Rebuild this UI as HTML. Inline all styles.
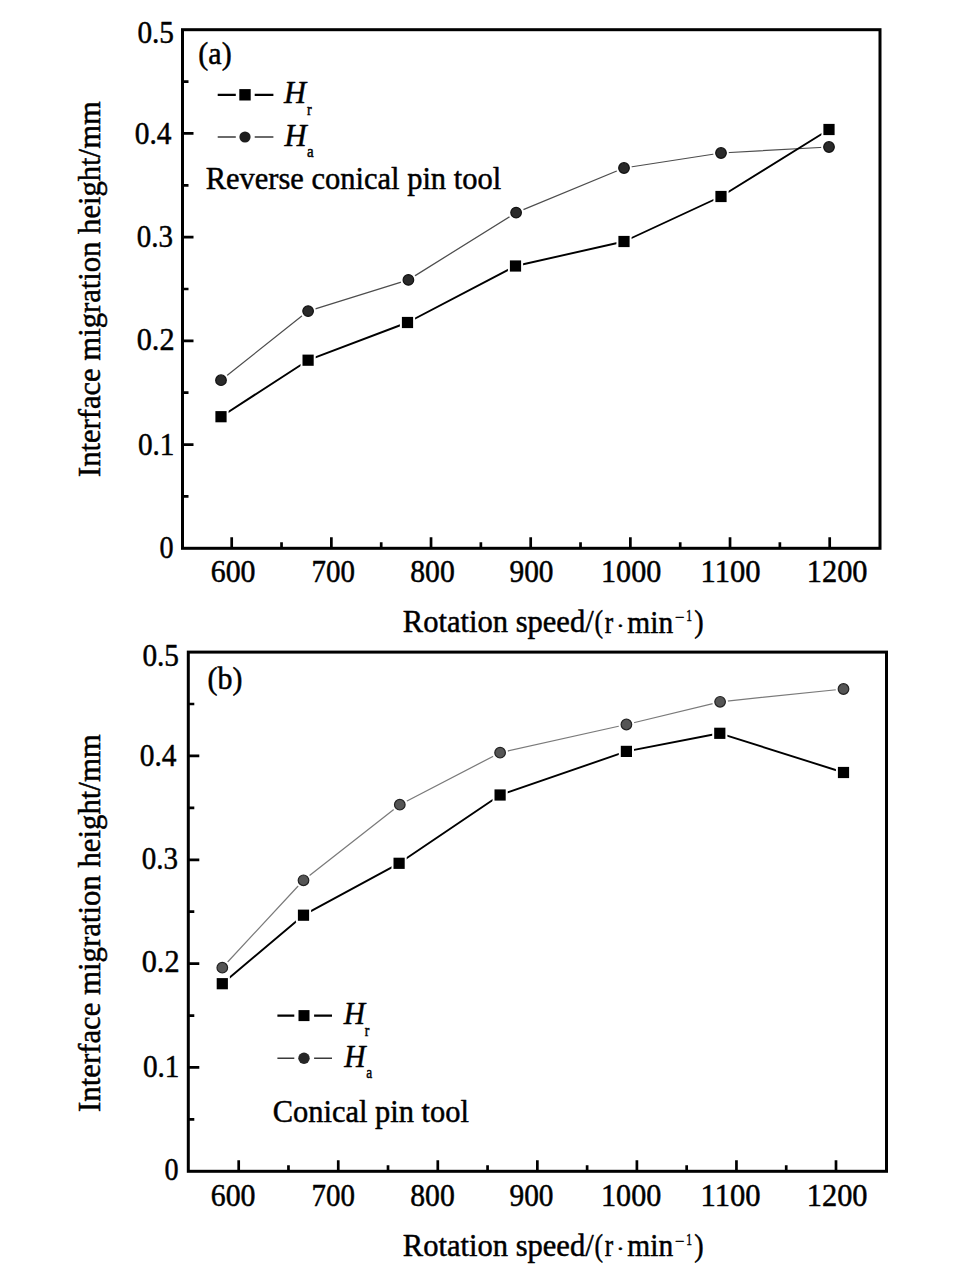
<!DOCTYPE html>
<html><head><meta charset="utf-8"><title>Interface migration height vs rotation speed</title>
<style>html,body{margin:0;padding:0;background:#ffffff;overflow:hidden;}svg{display:block;}</style></head>
<body>
<svg width="972" height="1288" viewBox="0 0 972 1288" font-family="'Liberation Serif', 'Times New Roman', serif" fill="#000">
<rect width="972" height="1288" fill="#ffffff"/>
<rect x="182.5" y="29.7" width="697.5" height="518.6" fill="#fff" stroke="#000" stroke-width="3.0"/>
<path d="M231.7 548.3V537.3M331.37 548.3V537.3M431.03 548.3V537.3M530.7 548.3V537.3M630.37 548.3V537.3M730.03 548.3V537.3M829.7 548.3V537.3M281.53 548.3V542.3M381.2 548.3V542.3M480.87 548.3V542.3M580.53 548.3V542.3M680.2 548.3V542.3M779.87 548.3V542.3M182.5 444.58H193.5M182.5 340.86H193.5M182.5 237.14H193.5M182.5 133.42H193.5M182.5 496.44H188.5M182.5 392.72H188.5M182.5 289H188.5M182.5 185.28H188.5M182.5 81.56H188.5" stroke="#000" stroke-width="2.7" fill="none"/>
<polyline points="221,380.2 308.1,311.1 408.4,279.9 516.1,212.6 624,168 721,153 829,147" fill="none" stroke="#4d4d4d" stroke-width="1.25" stroke-linejoin="round"/>
<polyline points="221,416.7 308.1,360.2 407.5,322.5 515.5,266 624,241.5 721,196.5 829,129.5" fill="none" stroke="#000" stroke-width="1.9" stroke-linejoin="round"/>
<circle cx="221" cy="380.2" r="7.9" fill="#fff"/>
<circle cx="221" cy="380.2" r="5.3" fill="#2a2a2a" stroke="#111" stroke-width="1.2"/>
<circle cx="308.1" cy="311.1" r="7.9" fill="#fff"/>
<circle cx="308.1" cy="311.1" r="5.3" fill="#2a2a2a" stroke="#111" stroke-width="1.2"/>
<circle cx="408.4" cy="279.9" r="7.9" fill="#fff"/>
<circle cx="408.4" cy="279.9" r="5.3" fill="#2a2a2a" stroke="#111" stroke-width="1.2"/>
<circle cx="516.1" cy="212.6" r="7.9" fill="#fff"/>
<circle cx="516.1" cy="212.6" r="5.3" fill="#2a2a2a" stroke="#111" stroke-width="1.2"/>
<circle cx="624" cy="168" r="7.9" fill="#fff"/>
<circle cx="624" cy="168" r="5.3" fill="#2a2a2a" stroke="#111" stroke-width="1.2"/>
<circle cx="721" cy="153" r="7.9" fill="#fff"/>
<circle cx="721" cy="153" r="5.3" fill="#2a2a2a" stroke="#111" stroke-width="1.2"/>
<circle cx="829" cy="147" r="7.9" fill="#fff"/>
<circle cx="829" cy="147" r="5.3" fill="#2a2a2a" stroke="#111" stroke-width="1.2"/>
<rect x="215.4" y="411.1" width="11.2" height="11.2" fill="#000" stroke="#fff" stroke-width="4.0" paint-order="stroke"/>
<rect x="302.5" y="354.6" width="11.2" height="11.2" fill="#000" stroke="#fff" stroke-width="4.0" paint-order="stroke"/>
<rect x="401.9" y="316.9" width="11.2" height="11.2" fill="#000" stroke="#fff" stroke-width="4.0" paint-order="stroke"/>
<rect x="509.9" y="260.4" width="11.2" height="11.2" fill="#000" stroke="#fff" stroke-width="4.0" paint-order="stroke"/>
<rect x="618.4" y="235.9" width="11.2" height="11.2" fill="#000" stroke="#fff" stroke-width="4.0" paint-order="stroke"/>
<rect x="715.4" y="190.9" width="11.2" height="11.2" fill="#000" stroke="#fff" stroke-width="4.0" paint-order="stroke"/>
<rect x="823.4" y="123.9" width="11.2" height="11.2" fill="#000" stroke="#fff" stroke-width="4.0" paint-order="stroke"/>
<path d="M217.7 94.8H235.8M254.7 94.8H273.4" stroke="#000" stroke-width="2.2" fill="none"/>
<rect x="239.3" y="89.1" width="11.4" height="11.4" fill="#000"/>
<path d="M217.7 137H235.8M254.7 137H273.4" stroke="#3a3a3a" stroke-width="1.4" fill="none"/>
<circle cx="245" cy="137" r="5.6" fill="#1c1c1c"/>
<rect x="188.3" y="652.1" width="698.2" height="519.2" fill="#fff" stroke="#000" stroke-width="3.0"/>
<path d="M238.7 1171.3V1160.3M338.25 1171.3V1160.3M437.8 1171.3V1160.3M537.35 1171.3V1160.3M636.9 1171.3V1160.3M736.45 1171.3V1160.3M836 1171.3V1160.3M288.47 1171.3V1165.3M388.02 1171.3V1165.3M487.57 1171.3V1165.3M587.12 1171.3V1165.3M686.67 1171.3V1165.3M786.22 1171.3V1165.3M188.3 1067.46H199.3M188.3 963.62H199.3M188.3 859.78H199.3M188.3 755.94H199.3M188.3 1119.38H194.3M188.3 1015.54H194.3M188.3 911.7H194.3M188.3 807.86H194.3M188.3 704.02H194.3" stroke="#000" stroke-width="2.7" fill="none"/>
<polyline points="222.3,967.7 303.5,880.3 399.8,804.7 500.1,752.7 626.4,724.5 720.1,701.8 843.5,689" fill="none" stroke="#7a7a7a" stroke-width="1.25" stroke-linejoin="round"/>
<polyline points="222.3,983.7 303.5,915.2 399.1,863.3 500.1,795 626.4,751.4 719.8,733.3 843.5,772.5" fill="none" stroke="#000" stroke-width="1.9" stroke-linejoin="round"/>
<circle cx="222.3" cy="967.7" r="7.9" fill="#fff"/>
<circle cx="222.3" cy="967.7" r="5.3" fill="#555" stroke="#222" stroke-width="1.2"/>
<circle cx="303.5" cy="880.3" r="7.9" fill="#fff"/>
<circle cx="303.5" cy="880.3" r="5.3" fill="#555" stroke="#222" stroke-width="1.2"/>
<circle cx="399.8" cy="804.7" r="7.9" fill="#fff"/>
<circle cx="399.8" cy="804.7" r="5.3" fill="#555" stroke="#222" stroke-width="1.2"/>
<circle cx="500.1" cy="752.7" r="7.9" fill="#fff"/>
<circle cx="500.1" cy="752.7" r="5.3" fill="#555" stroke="#222" stroke-width="1.2"/>
<circle cx="626.4" cy="724.5" r="7.9" fill="#fff"/>
<circle cx="626.4" cy="724.5" r="5.3" fill="#555" stroke="#222" stroke-width="1.2"/>
<circle cx="720.1" cy="701.8" r="7.9" fill="#fff"/>
<circle cx="720.1" cy="701.8" r="5.3" fill="#555" stroke="#222" stroke-width="1.2"/>
<circle cx="843.5" cy="689" r="7.9" fill="#fff"/>
<circle cx="843.5" cy="689" r="5.3" fill="#555" stroke="#222" stroke-width="1.2"/>
<rect x="216.7" y="978.1" width="11.2" height="11.2" fill="#000" stroke="#fff" stroke-width="4.0" paint-order="stroke"/>
<rect x="297.9" y="909.6" width="11.2" height="11.2" fill="#000" stroke="#fff" stroke-width="4.0" paint-order="stroke"/>
<rect x="393.5" y="857.7" width="11.2" height="11.2" fill="#000" stroke="#fff" stroke-width="4.0" paint-order="stroke"/>
<rect x="494.5" y="789.4" width="11.2" height="11.2" fill="#000" stroke="#fff" stroke-width="4.0" paint-order="stroke"/>
<rect x="620.8" y="745.8" width="11.2" height="11.2" fill="#000" stroke="#fff" stroke-width="4.0" paint-order="stroke"/>
<rect x="714.2" y="727.7" width="11.2" height="11.2" fill="#000" stroke="#fff" stroke-width="4.0" paint-order="stroke"/>
<rect x="837.9" y="766.9" width="11.2" height="11.2" fill="#000" stroke="#fff" stroke-width="4.0" paint-order="stroke"/>
<path d="M277.4 1015.6H294.3M314.1 1015.6H332" stroke="#000" stroke-width="2.2" fill="none"/>
<rect x="298.5" y="1010.1" width="11" height="11" fill="#000"/>
<path d="M277.4 1058.3H294.3M314.1 1058.3H332" stroke="#3a3a3a" stroke-width="1.4" fill="none"/>
<circle cx="304" cy="1058.3" r="5.7" fill="#262626"/>
<g stroke="#000" stroke-width="0.5" stroke-linejoin="round">
<text x="137.38" y="43.49" font-size="32.5" textLength="36.63" lengthAdjust="spacingAndGlyphs">0.5</text>
<text x="142.38" y="665.59" font-size="32.5" textLength="36.63" lengthAdjust="spacingAndGlyphs">0.5</text>
<text x="134.68" y="143.59" font-size="32.5" textLength="36.78" lengthAdjust="spacingAndGlyphs">0.4</text>
<text x="139.68" y="765.69" font-size="32.5" textLength="36.78" lengthAdjust="spacingAndGlyphs">0.4</text>
<text x="136.79" y="247.39" font-size="32.5" textLength="36.21" lengthAdjust="spacingAndGlyphs">0.3</text>
<text x="141.79" y="869.49" font-size="32.5" textLength="36.21" lengthAdjust="spacingAndGlyphs">0.3</text>
<text x="136.76" y="350.09" font-size="32.5" textLength="37.76" lengthAdjust="spacingAndGlyphs">0.2</text>
<text x="141.76" y="972.19" font-size="32.5" textLength="37.76" lengthAdjust="spacingAndGlyphs">0.2</text>
<text x="137.89" y="454.99" font-size="32.5" textLength="36.59" lengthAdjust="spacingAndGlyphs">0.1</text>
<text x="142.89" y="1077.09" font-size="32.5" textLength="36.59" lengthAdjust="spacingAndGlyphs">0.1</text>
<text x="159.42" y="558.29" font-size="32.5" textLength="14.06" lengthAdjust="spacingAndGlyphs">0</text>
<text x="164.42" y="1180.39" font-size="32.5" textLength="14.06" lengthAdjust="spacingAndGlyphs">0</text>
<text x="210.72" y="582.09" font-size="32.5" textLength="44.82" lengthAdjust="spacingAndGlyphs">600</text>
<text x="210.72" y="1205.84" font-size="32.5" textLength="44.82" lengthAdjust="spacingAndGlyphs">600</text>
<text x="311.59" y="582.09" font-size="32.5" textLength="43.41" lengthAdjust="spacingAndGlyphs">700</text>
<text x="311.59" y="1205.84" font-size="32.5" textLength="43.41" lengthAdjust="spacingAndGlyphs">700</text>
<text x="410.22" y="582.09" font-size="32.5" textLength="44.56" lengthAdjust="spacingAndGlyphs">800</text>
<text x="410.22" y="1205.84" font-size="32.5" textLength="44.56" lengthAdjust="spacingAndGlyphs">800</text>
<text x="509.48" y="582.09" font-size="32.5" textLength="44.03" lengthAdjust="spacingAndGlyphs">900</text>
<text x="509.48" y="1205.84" font-size="32.5" textLength="44.03" lengthAdjust="spacingAndGlyphs">900</text>
<text x="601.05" y="582.09" font-size="32.5" textLength="60.24" lengthAdjust="spacingAndGlyphs">1000</text>
<text x="601.05" y="1205.84" font-size="32.5" textLength="60.24" lengthAdjust="spacingAndGlyphs">1000</text>
<text x="700.51" y="582.09" font-size="32.5" textLength="60.05" lengthAdjust="spacingAndGlyphs">1100</text>
<text x="700.51" y="1205.84" font-size="32.5" textLength="60.05" lengthAdjust="spacingAndGlyphs">1100</text>
<text x="806.78" y="582.09" font-size="32.5" textLength="60.77" lengthAdjust="spacingAndGlyphs">1200</text>
<text x="806.78" y="1205.84" font-size="32.5" textLength="60.77" lengthAdjust="spacingAndGlyphs">1200</text>
<text x="198.36" y="64.29" font-size="32.5" textLength="33.32" lengthAdjust="spacingAndGlyphs">(a)</text>
<text x="207.46" y="689.29" font-size="32.5" textLength="34.92" lengthAdjust="spacingAndGlyphs">(b)</text>
<text><tspan x="284.08" y="103.4" font-size="32" font-style="italic" textLength="22.02" lengthAdjust="spacingAndGlyphs">H</tspan><tspan x="306.88" y="114.8" font-size="17.5" textLength="4.69" lengthAdjust="spacingAndGlyphs">r</tspan></text>
<text><tspan x="284.38" y="146.4" font-size="32" font-style="italic" textLength="22.11" lengthAdjust="spacingAndGlyphs">H</tspan><tspan x="306.93" y="157.33" font-size="17.5" textLength="6.66" lengthAdjust="spacingAndGlyphs">a</tspan></text>
<text><tspan x="343.86" y="1023.9" font-size="32" font-style="italic" textLength="21.30" lengthAdjust="spacingAndGlyphs">H</tspan><tspan x="364.69" y="1035.6" font-size="17.5" textLength="4.58" lengthAdjust="spacingAndGlyphs">r</tspan></text>
<text><tspan x="344.16" y="1066.5" font-size="32" font-style="italic" textLength="21.30" lengthAdjust="spacingAndGlyphs">H</tspan><tspan x="366.18" y="1078.03" font-size="17.5" textLength="5.90" lengthAdjust="spacingAndGlyphs">a</tspan></text>
<text x="205.72" y="189.3" font-size="32.5" textLength="295.45" lengthAdjust="spacingAndGlyphs">Reverse conical pin tool</text>
<text x="272.75" y="1121.8" font-size="32.5" textLength="196.22" lengthAdjust="spacingAndGlyphs">Conical pin tool</text>
<text><tspan x="402.82" y="632.4" font-size="32.5" textLength="190.87" lengthAdjust="spacingAndGlyphs">Rotation speed/</tspan><tspan x="594.6" y="632.09" font-size="32.5" textLength="8.53" lengthAdjust="spacingAndGlyphs">(</tspan><tspan x="604.71" y="632.5" font-size="32.5" textLength="8.42" lengthAdjust="spacingAndGlyphs">r</tspan><tspan x="616.27" y="632.54" font-size="21.6" textLength="8.29" lengthAdjust="spacingAndGlyphs">·</tspan><tspan x="627.34" y="632.5" font-size="32.5" textLength="45.76" lengthAdjust="spacingAndGlyphs">min</tspan><tspan x="674.92" y="623.2" font-size="17.5" textLength="9.38" lengthAdjust="spacingAndGlyphs">−</tspan><tspan x="686.3" y="621.2" font-size="17.5" textLength="5.73" lengthAdjust="spacingAndGlyphs">1</tspan><tspan x="694.22" y="632.09" font-size="32.5" textLength="9.40" lengthAdjust="spacingAndGlyphs">)</tspan></text>
<text><tspan x="402.82" y="1256.2" font-size="32.5" textLength="190.87" lengthAdjust="spacingAndGlyphs">Rotation speed/</tspan><tspan x="594.6" y="1255.89" font-size="32.5" textLength="8.53" lengthAdjust="spacingAndGlyphs">(</tspan><tspan x="604.71" y="1256.3" font-size="32.5" textLength="8.42" lengthAdjust="spacingAndGlyphs">r</tspan><tspan x="616.27" y="1256.34" font-size="21.6" textLength="8.29" lengthAdjust="spacingAndGlyphs">·</tspan><tspan x="627.34" y="1256.3" font-size="32.5" textLength="45.76" lengthAdjust="spacingAndGlyphs">min</tspan><tspan x="674.92" y="1247" font-size="17.5" textLength="9.38" lengthAdjust="spacingAndGlyphs">−</tspan><tspan x="686.3" y="1245" font-size="17.5" textLength="5.73" lengthAdjust="spacingAndGlyphs">1</tspan><tspan x="694.22" y="1255.89" font-size="32.5" textLength="9.40" lengthAdjust="spacingAndGlyphs">)</tspan></text>
<text transform="translate(100.3 477.06) rotate(-90)" x="0" y="0" font-size="32.5" textLength="375.83" lengthAdjust="spacingAndGlyphs">Interface migration height/mm</text>
<text transform="translate(100.3 1111.96) rotate(-90)" x="0" y="0" font-size="32.5" textLength="377.74" lengthAdjust="spacingAndGlyphs">Interface migration height/mm</text>
</g>
</svg>
</body></html>
